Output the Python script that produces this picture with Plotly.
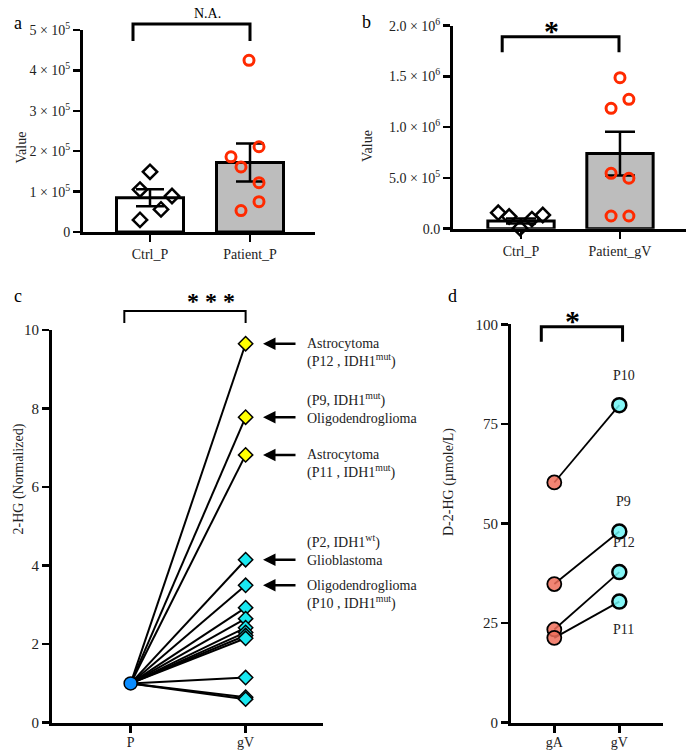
import plotly.graph_objects as go

# ---------------- data ----------------
a_categories = ["Ctrl_P", "Patient_P"]
a_means = [85000, 172000]
a_sem = [21000, 47000]
a_ctrl = [149000, 105000, 89000, 56000, 30000]
a_ctrl_jit = [0.0, -0.1, 0.22, 0.11, -0.1]
a_pat = [425000, 211000, 186000, 161000, 122000, 75000, 53000]
a_pat_jit = [-0.01, 0.09, -0.19, -0.09, 0.09, 0.09, -0.09]
a_ticks = [0, 100000, 200000, 300000, 400000, 500000]
a_ticktext = ["0", "1 × 10<sup>5</sup>", "2 × 10<sup>5</sup>", "3 × 10<sup>5</sup>",
              "4 × 10<sup>5</sup>", "5 × 10<sup>5</sup>"]

b_categories = ["Ctrl_P", "Patient_gV"]
b_means = [76000, 740000]
b_sem = [25000, 215000]
b_ctrl = [158000, 120000, 5000, 95000, 135000]
b_ctrl_jit = [-0.23, -0.12, -0.01, 0.11, 0.22]
b_pat = [1488000, 1275000, 1186000, 546000, 497000, 125000, 125000]
b_pat_jit = [0.0, 0.09, -0.09, -0.09, 0.09, -0.09, 0.09]
b_ticks = [0, 500000, 1000000, 1500000, 2000000]
b_ticktext = ["0.0", "5.0 × 10<sup>5</sup>", "1.0 × 10<sup>6</sup>",
              "1.5 × 10<sup>6</sup>", "2.0 × 10<sup>6</sup>"]

c_categories = ["P", "gV"]
c_p = 1.0
c_gv = [9.65, 7.78, 6.82, 4.15, 3.5, 2.93, 2.65, 2.42, 2.3, 2.22, 2.15, 1.15, 0.65, 0.6]
c_mut = [True, True, True, False, False, False, False, False, False, False, False, False, False, False]
c_arrow_vals = [9.65, 7.78, 6.82, 4.15, 3.5]
c_labels = ["Astrocytoma<br>(P12 , IDH1<sup>mut</sup>)",
            "(P9, IDH1<sup>mut</sup>)<br>Oligodendroglioma",
            "Astrocytoma<br>(P11 , IDH1<sup>mut</sup>)",
            "(P2, IDH1<sup>wt</sup>)<br>Glioblastoma",
            "Oligodendroglioma<br>(P10 , IDH1<sup>mut</sup>)"]
c_label_first = [True, False, True, False, True]

d_categories = ["gA", "gV"]
d_ga = [60.3, 34.8, 23.4, 21.3]
d_gv = [79.7, 48.0, 37.8, 30.4]
d_names = ["P10", "P9", "P12", "P11"]
d_name_above = [True, True, True, False]

# ---------------- layout geometry ----------------
W, H = 686, 750
FONT = "Liberation Serif"


def px(x):
    return x / W


def py(y):
    return 1 - y / H


dom = {
    "a": dict(x=[px(83), px(315)], y=[py(232), py(30)], xr=[-0.67, 1.65], yr=[0, 500000]),
    "b": dict(x=[px(453), px(686)], y=[py(228.7), py(25.7)], xr=[-0.687, 1.667], yr=[0, 2000000]),
    "c": dict(x=[px(52), px(323)], y=[py(722.7), py(330)], xr=[-0.684, 1.673], yr=[0, 10]),
    "d": dict(x=[px(511), px(663)], y=[py(722.7), py(324.3)], xr=[-0.666, 1.672], yr=[0, 100]),
}


def xp(panel, v):
    d = dom[panel]
    return d["x"][0] + (v - d["xr"][0]) / (d["xr"][1] - d["xr"][0]) * (d["x"][1] - d["x"][0])


def yp(panel, v):
    d = dom[panel]
    return d["y"][0] + (v - d["yr"][0]) / (d["yr"][1] - d["yr"][0]) * (d["y"][1] - d["y"][0])


fig = go.Figure()

# ---------------- panel a ----------------
fig.add_trace(go.Bar(
    x=[0, 1], y=a_means, width=0.67, xaxis="x", yaxis="y",
    marker=dict(color=["white", "#bdbdbd"], line=dict(color="black", width=3)),
    error_y=dict(type="data", array=a_sem, color="black", thickness=2.5, width=14),
    showlegend=False))
fig.add_trace(go.Scatter(
    x=[0 + j for j in a_ctrl_jit], y=a_ctrl, mode="markers", xaxis="x", yaxis="y",
    marker=dict(symbol="diamond-open", size=11, color="black", line=dict(width=2.5)),
    showlegend=False, cliponaxis=False))
fig.add_trace(go.Scatter(
    x=[1 + j for j in a_pat_jit], y=a_pat, mode="markers", xaxis="x", yaxis="y",
    marker=dict(symbol="circle-open", size=10, color="#ff2a00", line=dict(width=3)),
    showlegend=False, cliponaxis=False))

# ---------------- panel b ----------------
fig.add_trace(go.Bar(
    x=[0, 1], y=b_means, width=0.67, xaxis="x2", yaxis="y2",
    marker=dict(color=["white", "#bdbdbd"], line=dict(color="black", width=3)),
    error_y=dict(type="data", array=b_sem, color="black", thickness=2.5, width=15),
    showlegend=False))
fig.add_trace(go.Scatter(
    x=[0 + j for j in b_ctrl_jit], y=b_ctrl, mode="markers", xaxis="x2", yaxis="y2",
    marker=dict(symbol="diamond-open", size=11, color="black", line=dict(width=2.5)),
    showlegend=False, cliponaxis=False))
fig.add_trace(go.Scatter(
    x=[1 + j for j in b_pat_jit], y=b_pat, mode="markers", xaxis="x2", yaxis="y2",
    marker=dict(symbol="circle-open", size=10, color="#ff2a00", line=dict(width=3)),
    showlegend=False, cliponaxis=False))

# ---------------- panel c ----------------
for v in c_gv:
    fig.add_trace(go.Scatter(
        x=[0, 1], y=[c_p, v], mode="lines", xaxis="x3", yaxis="y3",
        line=dict(color="black", width=2), showlegend=False, cliponaxis=False))
fig.add_trace(go.Scatter(
    x=[1] * len(c_gv), y=c_gv, mode="markers", xaxis="x3", yaxis="y3",
    marker=dict(symbol="diamond", size=11,
                color=["#ffff00" if m else "#19e8f0" for m in c_mut],
                line=dict(color="black", width=1.5)),
    showlegend=False, cliponaxis=False))
fig.add_trace(go.Scatter(
    x=[0], y=[c_p], mode="markers", xaxis="x3", yaxis="y3",
    marker=dict(symbol="circle", size=13, color="#0a8cff", line=dict(color="black", width=1.5)),
    showlegend=False, cliponaxis=False))

# ---------------- panel d ----------------
for ga, gv in zip(d_ga, d_gv):
    fig.add_trace(go.Scatter(
        x=[0, 1], y=[ga, gv], mode="lines", xaxis="x4", yaxis="y4",
        line=dict(color="black", width=1.8), showlegend=False, cliponaxis=False))
fig.add_trace(go.Scatter(
    x=[0] * len(d_ga), y=d_ga, mode="markers", xaxis="x4", yaxis="y4",
    marker=dict(symbol="circle", size=14, color="rgba(240,110,90,0.85)",
                line=dict(color="black", width=1.8)),
    showlegend=False, cliponaxis=False))
fig.add_trace(go.Scatter(
    x=[1] * len(d_gv), y=d_gv, mode="markers", xaxis="x4", yaxis="y4",
    marker=dict(symbol="circle", size=14, color="rgba(110,245,245,0.85)",
                line=dict(color="black", width=2.5)),
    showlegend=False, cliponaxis=False))

# ---------------- axes ----------------
def yaxis_cfg(p, tickvals, ticktext=None, anchor="x", fsize=14):
    d = dom[p]
    cfg = dict(domain=d["y"], range=d["yr"], anchor=anchor, showgrid=False, zeroline=False,
               showline=True, linewidth=3, linecolor="black", ticks="outside", ticklen=7,
               tickwidth=2.5, tickcolor="black", tickvals=tickvals,
               tickfont=dict(family=FONT, size=fsize, color="#222"),
               fixedrange=True, automargin=False)
    if ticktext is not None:
        cfg["ticktext"] = ticktext
    return cfg


def xaxis_cfg(p, labels, anchor="y", standoff=0):
    d = dom[p]
    return dict(domain=d["x"], range=d["xr"], anchor=anchor, showgrid=False, zeroline=False,
                showline=True, linewidth=3, linecolor="black", ticks="outside", ticklen=7,
                tickwidth=2.5, tickcolor="black", tickvals=[0, 1], ticktext=labels,
                tickfont=dict(family=FONT, size=14, color="#222"), fixedrange=True,
                automargin=False, ticklabelstandoff=standoff)


fig.update_layout(
    template="none",
    width=W, height=H, margin=dict(l=0, r=0, t=0, b=0, pad=0, autoexpand=False),
    paper_bgcolor="white", plot_bgcolor="rgba(0,0,0,0)",
    font=dict(family=FONT, color="black"),
    bargap=0,
    xaxis=xaxis_cfg("a", a_categories, "y"),
    yaxis=yaxis_cfg("a", a_ticks, a_ticktext, "x"),
    xaxis2=xaxis_cfg("b", b_categories, "y2"),
    yaxis2=yaxis_cfg("b", b_ticks, b_ticktext, "x2"),
    xaxis3=xaxis_cfg("c", c_categories, "y3", -3),
    yaxis3=yaxis_cfg("c", [0, 2, 4, 6, 8, 10], None, "x3", 15),
    xaxis4=xaxis_cfg("d", d_categories, "y4", -3),
    yaxis4=yaxis_cfg("d", [0, 25, 50, 75, 100], None, "x4", 15),
)

ann = []
shapes = []

# panel letters
for t, x, y in [("a", 12, 11), ("b", 366, 10), ("c", 12, 296), ("d", 459, 296)]:
    ann.append(dict(text=t, x=px(x), y=py(y), xref="paper", yref="paper", showarrow=False,
                    font=dict(family=FONT, size=18, color="black")))

# axis titles
for t, x, y in [("Value", 11, 130), ("Value", 368, 128), ("2-HG (Normalized)", 8, 537),
                ("D-2-HG (µmole/L)", 459, 538)]:
    ann.append(dict(text=t, x=px(x), y=py(y), xref="paper", yref="paper", showarrow=False,
                    textangle=-90, font=dict(family=FONT, size=14, color="#222")))


def bracket(p, x0, x1, ytop, ybot, label, lsize, ly, lw=3, yanchor="middle"):
    X0, X1 = xp(p, x0), xp(p, x1)
    path = f"M {X0},{py(ybot)} L {X0},{py(ytop)} L {X1},{py(ytop)} L {X1},{py(ybot)}"
    shapes.append(dict(type="path", path=path, xref="paper", yref="paper",
                       line=dict(color="black", width=lw)))
    ann.append(dict(text=label, x=(X0 + X1) / 2, y=py(ly), xref="paper", yref="paper",
                    yanchor=yanchor, showarrow=False,
                    font=dict(family=FONT, size=lsize, color="black")))


bracket("a", -0.17, 1.0, 24, 41, "N.A.", 14, 23, yanchor="bottom")
bracket("b", -0.19, 0.99, 36.7, 52.3, "<b>*</b>", 30, 30)
bracket("c", -0.055, 1.0, 311, 323, "<b>* * *</b>", 24, 301, lw=2)
bracket("d", -0.2, 1.05, 326.7, 341.7, "<b>*</b>", 30, 321)

# panel c arrows + labels
for v, lab, first in zip(c_arrow_vals, c_labels, c_label_first):
    ya = yp("c", v)
    ann.append(dict(text="", x=px(263), y=ya, xref="paper", yref="paper",
                    ax=34, ay=0, axref="pixel", ayref="pixel", showarrow=True,
                    arrowhead=2, arrowsize=1.0, arrowwidth=2.5, arrowcolor="black"))
    ycen = ya - (9.5 / H) if first else ya + (9.5 / H)
    ann.append(dict(text=lab, x=px(305), y=ycen, xref="paper", yref="paper",
                    xanchor="left", yanchor="middle", align="left", showarrow=False,
                    font=dict(family=FONT, size=14, color="#222")))

# panel d labels
for gv, name, above in zip(d_gv, d_names, d_name_above):
    ann.append(dict(text=name, x=1.07, y=gv, xref="x4", yref="y4", showarrow=False,
                    yshift=30 if above else -28,
                    font=dict(family=FONT, size=14, color="#222")))

fig.update_layout(annotations=ann, shapes=shapes)
fig.write_html(
    "out.html",
    config={"displayModeBar": False, "staticPlot": True},
    post_script="document.body.style.margin='0';document.body.style.padding='0';"
                "document.body.style.overflow='hidden';",
)
